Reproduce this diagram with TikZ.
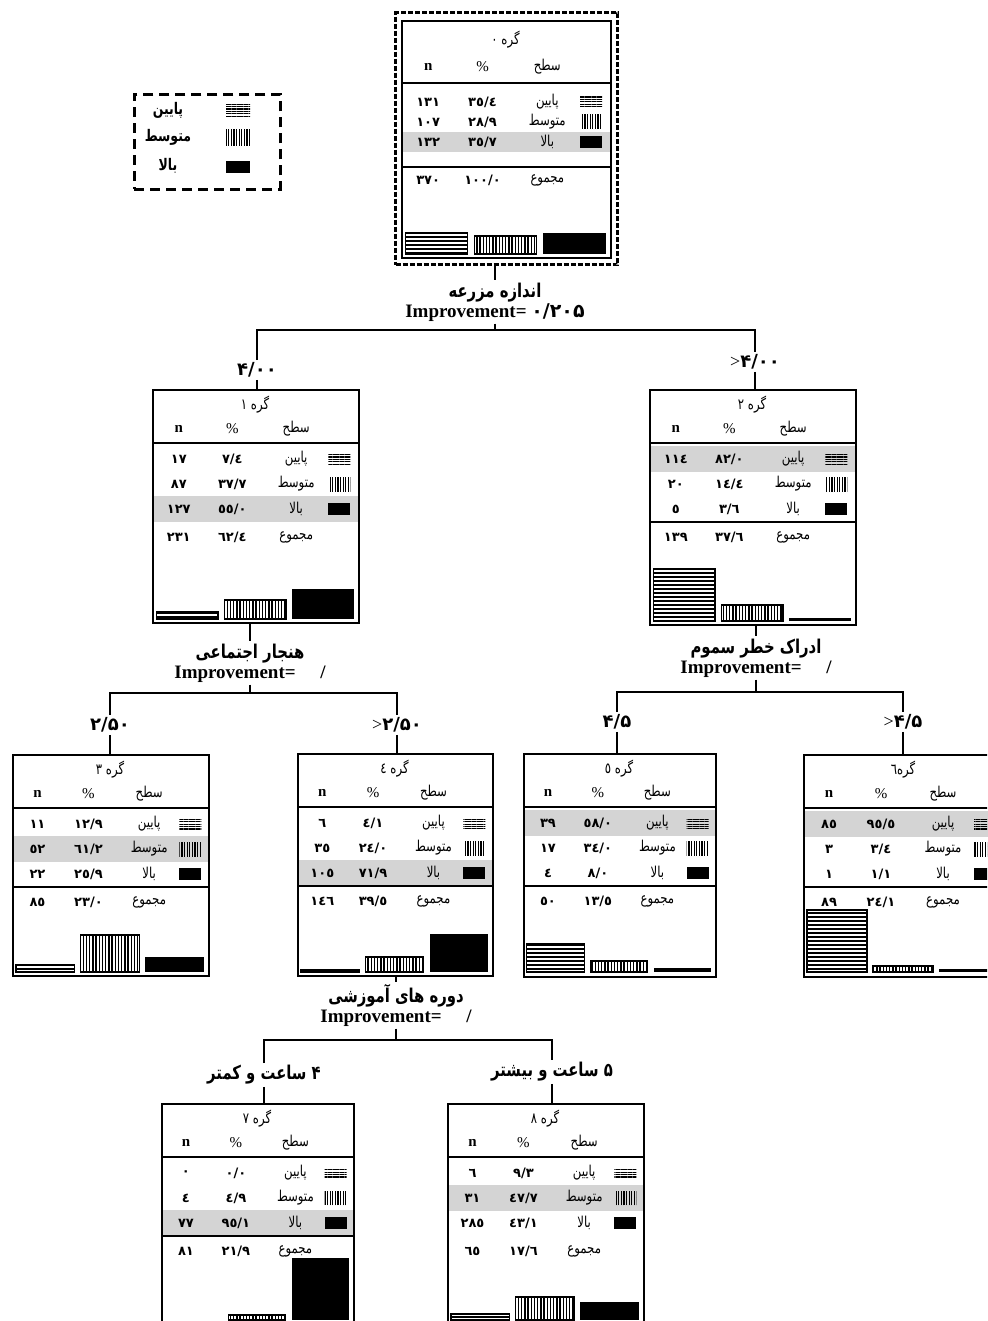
\documentclass[tikz,border=0pt]{standalone}
\usepackage{fontspec}
\setmainfont{Liberation Serif}
\newfontfamily\persianfont[Script=Arabic]{DejaVu Sans}
\newfontfamily\persiannarrow[Script=Arabic, FakeStretch=0.78]{DejaVu Sans}
\TeXXeTstate=1
\usetikzlibrary{patterns.meta,backgrounds}

\tikzset{
  gbox/.style={draw, line width=0.9pt, anchor=north west, inner sep=0pt},
  gframe/.style={draw, line width=1.6pt, dash pattern=on 2.5pt off 1pt, anchor=north west, inner sep=0pt},
  legbox/.style={draw, line width=1.4pt, dash pattern=on 5pt off 3pt, anchor=north west, inner sep=0pt},
  sepline/.style={line width=1pt},
  hlrow/.style={fill=black!17},
  lab/.style={font=\persiannarrow\fontsize{7.5}{8}\selectfont, inner sep=0pt},
  leglab/.style={font=\persiannarrow\bfseries\fontsize{8}{9}\selectfont, inner sep=0pt},
  num/.style={font=\persianfont\bfseries\fontsize{6.5}{8}\selectfont, inner sep=0pt},
  hd/.style={font=\bfseries\fontsize{7.5}{8}\selectfont, inner sep=0pt},
  iconH/.style={minimum width=11pt, minimum height=5pt, inner sep=0pt, pattern={Lines[angle=0,distance=1.2pt,line width=0.6pt]}},
  iconV/.style={minimum width=11pt, minimum height=7pt, inner sep=0pt, pattern={Lines[angle=90,distance=1.3pt,line width=0.6pt]}},
  iconB/.style={minimum width=11pt, minimum height=6pt, inner sep=0pt, fill=black},
  barH/.style={draw, line width=0.6pt, pattern={Lines[angle=0,distance=2pt,line width=0.8pt]}},
  barV/.style={draw, line width=0.6pt, pattern={Lines[angle=90,distance=1.6pt,line width=0.7pt]}},
  barB/.style={fill=black},
  cut/.style={font=\persianfont\bfseries\fontsize{9}{10}\selectfont, inner sep=1pt},
  cutw/.style={font=\persiannarrow\bfseries\fontsize{9.5}{10}\selectfont, inner sep=1pt},
  split/.style={align=center, inner sep=1pt, font=\bfseries\fontsize{9.5}{10}\selectfont},
  link/.style={line width=0.8pt},
}

\def\yT{16}\def\yH{40}\def\yS{54}\def\yA{70}\def\yB{95}\def\yC{120}\def\yD{133}\def\yE{148}\def\bh{13}

\newcommand{\gbox}[5]{\node[gbox, minimum width=#4*0.5pt, minimum height=#5*0.5pt] (#1) at (#2,#3) {};}

\newcommand{\grow}[4]{%
  \node[num] at (0.13,#1) {#2};
  \node[num] at (0.39,#1) {#3};
  \node[lab] at (0.70,#1) {#4};}

\newcommand{\gtable}[9]{%
  \node[lab] at (0.5,\yT) {\beginR #1\endR};
  \node[hd] at (0.13,\yH) {n};
  \node[hd, font=\fontsize{7.5}{8}\selectfont] at (0.39,\yH) {\%};
  \node[lab] at (0.70,\yH) {سطح};
  \draw[sepline] (0,\yS) -- (1,\yS);
  \grow{\yA}{#2}{#3}{پایین}\node[iconH] at (0.91,\yA) {};
  \grow{\yB}{#4}{#5}{متوسط}\node[iconV] at (0.91,\yB) {};
  \grow{\yC}{#6}{#7}{بالا}\node[iconB] at (0.91,\yC) {};
  \grow{\yE}{#8}{#9}{مجموع}}

\newcommand{\ghl}[1]{\begin{scope}[on background layer]\fill[hlrow] (0,#1-\bh) rectangle (1,#1+\bh);\end{scope}}
\newcommand{\gsep}{\draw[sepline] (0,\yD) -- (1,\yD);}
\newcommand{\gbars}[4]{%
  \ifdim#2pt>0pt \draw[barH] (0.02,#1) rectangle (0.32,#1-#2);\fi
  \draw[barV] (0.35,#1) rectangle (0.65,#1-#3);
  \fill[barB] (0.68,#1) rectangle (0.98,#1-#4);}
\newcommand{\gt}{{\rmfamily\mdseries >}}

\begin{document}
\begin{tikzpicture}[x=0.5pt, y=-0.5pt]
\useasboundingbox (0,0) rectangle (987,1321);
\clip (0,0) rectangle (987,1321);

% legend
\node[legbox, minimum width=73pt, minimum height=47.5pt] (leg) at (133,93) {};
\node[leglab] at (168,110) {پایین};
\node[leglab] at (168,137) {متوسط};
\node[leglab] at (168,166) {بالا};
\node[iconH, minimum width=12pt, minimum height=6pt] at (238,111) {};
\node[iconV, minimum width=12pt, minimum height=8pt] at (238,138) {};
\node[iconB, minimum width=12pt, minimum height=6pt] at (238,167) {};

% root
\node[gframe, minimum width=111pt, minimum height=126pt] (g0f) at (394,11) {};
\gbox{g0}{401}{20}{209}{237}
\begin{scope}[shift={(g0.north west)}, x=104.5pt]
  \def\yT{20}\def\yH{47}\def\yS{63}\def\yA{82}\def\yB{102}\def\yC{122}\def\yD{147}\def\yE{160}\def\bh{10}
  \ghl{\yC}
  \gtable{گره ٠}{١٣١}{٣٥/٤}{١٠٧}{٢٨/٩}{١٣٢}{٣٥/٧}{٣٧٠}{١٠٠/٠}
  \gsep
  \gbars{234}{21}{18}{21}
\end{scope}

\node[split] (s0) at (495,302) {{\persiannarrow\beginR اندازه مزرعه\endR}\\Improvement= {\persianfont ۰/۲۰۵}};
\coordinate (j0) at (495,330);
\node[cut] (l1) at (257,370) {۴/۰۰};
\node[cut] (l2) at (755,362) {\gt۴/۰۰};

% level 1
\gbox{g1}{152}{389}{206}{233}
\begin{scope}[shift={(g1.north west)}, x=103pt]
  \ghl{\yC}
  \gtable{گره ١}{١٧}{٧/٤}{٨٧}{٣٧/٧}{١٢٧}{٥٥/٠}{٢٣١}{٦٢/٤}
  \gbars{230}{7}{19}{30}
\end{scope}

\gbox{g2}{649}{389}{206}{235}
\begin{scope}[shift={(g2.north west)}, x=103pt]
  \ghl{\yA}
  \gtable{گره ٢}{١١٤}{٨٢/٠}{٢٠}{١٤/٤}{٥}{٣/٦}{١٣٩}{٣٧/٦}
  \gsep
  \gbars{232}{52}{16}{3}
\end{scope}

\node[split] (s1) at (250,663) {{\persiannarrow\beginR هنجار اجتماعی\endR}\\Improvement=\hspace{1.3em}/};
\coordinate (j1) at (250,693);
\node[cut] (l3) at (110,725) {۲/۵۰};
\node[cut] (l4) at (397,725) {\gt۲/۵۰};

\node[split] (s2) at (756,658) {{\persiannarrow\beginR ادراک خطر سموم\endR}\\Improvement=\hspace{1.3em}/};
\coordinate (j2) at (756,692);
\node[cut] (l5) at (617,722) {۴/۵};
\node[cut] (l6) at (903,722) {\gt۴/۵};

% level 2
\gbox{g3}{12}{754}{196}{221}
\begin{scope}[shift={(g3.north west)}, x=98pt]
  \ghl{\yB}
  \gtable{گره ٣}{١١}{١٢/٩}{٥٢}{٦١/٢}{٢٢}{٢٥/٩}{٨٥}{٢٣/٠}
  \gsep
  \gbars{218}{7}{37}{15}
\end{scope}

\gbox{g4}{297}{753}{195}{222}
\begin{scope}[shift={(g4.north west)}, x=97.5pt]
  \ghl{\yC}
  \gtable{گره ٤}{٦}{٤/١}{٣٥}{٢٤/٠}{١٠٥}{٧١/٩}{١٤٦}{٣٩/٥}
  \gsep
  \gbars{219}{2}{15}{38}
\end{scope}

\gbox{g5}{523}{753}{192}{223}
\begin{scope}[shift={(g5.north west)}, x=96pt]
  \ghl{\yA}
  \gtable{گره ٥}{٣٩}{٥٨/٠}{١٧}{٣٤/٠}{٤}{٨/٠}{٥٠}{١٣/٥}
  \gsep
  \gbars{219}{28}{11}{4}
\end{scope}

\gbox{g6}{803}{754}{200}{222}
\begin{scope}[shift={(g6.north west)}, x=100pt]
  \ghl{\yA}
  \gtable{گره٦}{٨٥}{٩٥/٥}{٣}{٣/٤}{١}{١/١}{٨٩}{٢٤/١}
  \gsep
  \gbars{218}{62}{6}{3}
\end{scope}

\node[split] (s4) at (396,1005) {{\persiannarrow\beginR دوره های آموزشی\endR}\\Improvement=\hspace{1.3em}/};
\coordinate (j4) at (396,1040);
\node[cutw] (l7) at (264,1075) {\beginR ۴ ساعت و کمتر\endR};
\node[cutw] (l8) at (552,1072) {\beginR ۵ ساعت و بیشتر\endR};

% level 3
\gbox{g7}{161}{1103}{192}{220}
\begin{scope}[shift={(g7.north west)}, x=96pt]
  \ghl{\yC}
  \gtable{گره ٧}{٠}{٠/٠}{٤}{٤/٩}{٧٧}{٩٥/١}{٨١}{٢١/٩}
  \gsep
  \gbars{217}{0}{5}{62}
\end{scope}

\gbox{g8}{447}{1103}{196}{220}
\begin{scope}[shift={(g8.north west)}, x=98pt]
  \ghl{\yB}
  \gtable{گره ٨}{٦}{٩/٣}{٣١}{٤٧/٧}{٢٨٥}{٤٣/١}{٦٥}{١٧/٦}
  \gbars{217}{6}{23}{18}
\end{scope}

% connectors
\draw[link] (s0.north |- g0f.south) -- (s0.north);
\draw[link] (s0.south) -- (j0);
\draw[link] (l1.north) |- (j0) -| (l2.north);
\draw[link] (l1.south) -- (l1.south |- g1.north);
\draw[link] (l2.south) -- (l2.south |- g2.north);
\draw[link] (s1.north |- g1.south) -- (s1.north);
\draw[link] (s1.south) -- (j1);
\draw[link] (l3.north) |- (j1) -| (l4.north);
\draw[link] (l3.south) -- (l3.south |- g3.north);
\draw[link] (l4.south) -- (l4.south |- g4.north);
\draw[link] (s2.north |- g2.south) -- (s2.north);
\draw[link] (s2.south) -- (j2);
\draw[link] (l5.north) |- (j2) -| (l6.north);
\draw[link] (l5.south) -- (l5.south |- g5.north);
\draw[link] (l6.south) -- (l6.south |- g6.north);
\draw[link] (s4.north |- g4.south) -- (s4.north);
\draw[link] (s4.south) -- (j4);
\draw[link] (l7.north) |- (j4) -| (l8.north);
\draw[link] (l7.south) -- (l7.south |- g7.north);
\draw[link] (l8.south) -- (l8.south |- g8.north);
\end{tikzpicture}
\end{document}
